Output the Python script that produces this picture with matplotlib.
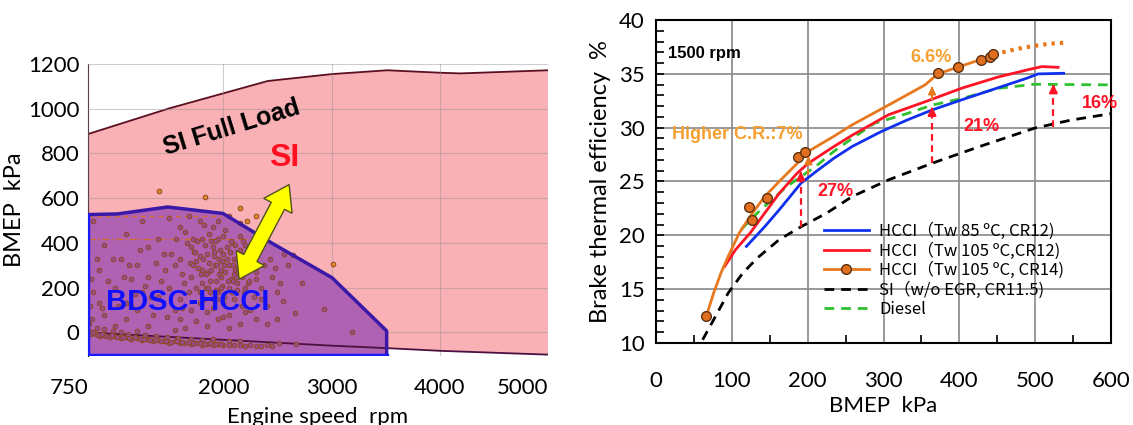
import numpy as np
import matplotlib
matplotlib.use("Agg")
import matplotlib.pyplot as plt
from matplotlib.patches import Polygon
from matplotlib.lines import Line2D
from matplotlib.transforms import IdentityTransform

# ---- left chart: operating map ----
rpm_ticks = [750, 2000, 3000, 4000, 5000]
bmep_ticks = [0, 200, 400, 600, 800, 1000, 1200]

full_load_rpm = [750, 1502, 2410, 3004, 3515, 4004, 4192, 5000]
full_load_bmep = [887, 1002, 1124, 1155, 1172, 1161, 1158, 1172]
motoring_rpm = [750, 1585, 3004, 3515, 4004, 5000]
motoring_bmep = [0, -22, -59, -70, -82, -99]

hcci_rpm = [750, 1024, 1486, 1997, 2443, 3004, 3509, 3509, 750]
hcci_bmep = [527, 530, 561, 532, 401, 245, 7, -101, -101]

# measured points inside the HCCI zone
pts_rpm = [800, 1100, 1050, 1300, 1400, 1500, 900, 780, 850, 950, 1000, 1150, 1200, 1250,
           1350, 1450, 1550, 1600, 1650, 1700, 1700, 1750, 1750, 1800, 1800, 1820, 1850, 1880,
           1900, 1900, 1920, 1950, 1950, 1980, 2000, 2020, 2050, 2050, 2080, 2100, 2100, 2120,
           2150, 2150, 2180, 2200, 2220, 2250, 2280, 2300, 2320, 2350, 2400, 2450, 2500, 2550,
           1600, 1700, 1850, 1950, 2050, 2150, 2300, 1400, 1300, 1200, 1100, 900, 850, 1000,
           1150, 1500, 1550, 1650, 1750, 2250, 2400, 1820, 1880, 1720, 1780, 2000, 2070, 1930,
           1870, 1960, 2130, 2170, 2230, 2030, 1980, 2110, 1790, 1690, 1640, 2200, 2340, 2430,
           2500, 2600, 770, 760, 800, 1250, 1680, 2050, 2640, 2730, 2930, 2660, 3185, 2510, 2670,
           1860, 1910, 1990, 2010, 2060, 2090, 1840, 1770, 1940, 2140, 1730, 1890,
           1720, 1740, 1760, 1780, 1800, 1810, 1830, 1840, 1860, 1870, 1890, 1900, 1910, 1920,
           1930, 1940, 1960, 1970, 1980, 1990, 2000, 2010, 2020, 2030, 2040, 2060, 2070, 2080,
           2090, 2100, 2110, 2120, 2130, 2140, 2160, 2170, 2180, 2190, 2200, 2210, 2230, 2240,
           2260, 2280, 2300, 1600, 1620, 1660, 1680, 1560, 1520, 1460, 1420, 1380, 1330, 1280,
           1230, 1180, 1130, 1080, 1030, 980, 930, 880, 830, 790, 1600, 1780, 1950, 2150, 1480,
           1620, 1780, 1900, 2000, 2200, 2350, 2380, 2480, 2520, 2560, 2050, 1850, 1550, 1300,
           1100]
pts_bmep = [500, 440, 330, 250, 420, 510, 390, 240, 280, 150, 200, 120, 300, 180,
            80, 350, 300, 150, 450, 380, 250, 200, 320, 420, 280, 150, 350, 230,
            470, 380, 300, 180, 420, 250, 350, 460, 300, 200, 400, 150, 330, 250,
            370, 430, 300, 200, 280, 350, 160, 240, 300, 200, 120, 250, 180, 140,
            60, 100, 90, 60, 80, 40, 60, 160, 380, 100, 60, 80, 130, 30,
            240, 200, 100, 20, 50, 100, 40, 480, 180, 420, 340, 130, 240, 230,
            310, 330, 190, 120, 220, 380, 280, 280, 260, 310, 220, 390, 380, 330,
            60, 300, 120, 40, 180, 500, 520, 520, 347, 222, 107, 89, 0, -49, -53,
            270, 340, 210, 300, 360, 230, 200, 290, 150, 270, 360, 410,
            300, 360, 410, 180, 220, 330, 390, 260, 200, 440, 280, 150, 360, 410,
            190, 300, 260, 370, 200, 320, 430, 160, 270, 330, 230, 360, 410, 180,
            300, 260, 390, 330, 220, 290, 350, 250, 410, 180, 320, 270, 380, 230,
            300, 330, 270, 330, 260, 400, 180, 420, 350, 280, 230, 310, 160, 210,
            370, 170, 300, 250, 120, 330, 230, 110, 330, 60, 470, 500, 500, 490, 70,
            110, 130, 110, 70, 90, 150, 300, 290, 220, 350, 20, 30, 10, 30,
            130]

# points along the motoring line
band_rpm = [780, 820, 860, 900, 950, 1000, 1050, 1100, 1150, 1200, 1250, 1300, 1350, 1400,
            1450, 1500, 1550, 1600, 1650, 1700, 1750, 1800, 1850, 1900, 1950, 2000, 2100,
            2200, 2300, 2400, 830, 900, 980, 1050, 1120, 1200, 1280, 1380, 1480, 1580, 1700,
            1800, 1900, 2050, 2150, 760, 800, 840, 880, 920, 970, 1020, 1070, 1130, 1180, 1230,
            1270, 1320, 1370, 1420, 1470, 1520, 1570, 1620, 1680, 1720, 1780, 1830, 1880, 1930,
            1980, 2050, 2150, 2250, 2350, 2450]
band_bmep = [-5, -5, -15, -10, -20, -15, -25, -20, -30, -25, -35, -30, -40, -35,
             -40, -45, -40, -48, -45, -50, -48, -55, -50, -55, -52, -58, -55,
             -60, -62, -58, 20, 15, 5, 0, -5, 5, -10, -15, -20, -25, -30,
             -35, -30, -40, -38, 5, 0, -10, -8, -15, -12, -20, -18, -25, -22, -30,
             -28, -35, -30, -38, -36, -42, -38, -44, -42, -47, -45, -50, -48, -52,
             -50, -54, -58, -57, -60, -62]

high_rpm = [1410, 1832, 2152, 2222, 2298, 3014]
high_bmep = [634, 604, 555, 497, 520, 307]

# double arrow between the two regimes (tail, head)
swap_rpm = [2146, 2608]
swap_bmep = [238, 661]

# ---- right chart: brake thermal efficiency ----
cr14_x = [66.3, 76.0, 85.6, 95.2, 109.6, 124.0, 143.3, 162.5, 186.5, 201.0, 234.6, 258.7,
          306.7, 354.8, 371.6, 402.9, 446.2]
cr14_y = [12.47, 14.64, 16.49, 18.04, 20.2, 21.75, 23.6, 25.0, 26.7, 27.8, 29.2, 30.26,
          32.1, 33.97, 34.99, 35.73, 36.75]
cr14_ext_x = [446, 475, 499, 520, 542]
cr14_ext_y = [36.8, 37.3, 37.6, 37.8, 37.9]
cr14_pts_x = [66, 123, 126, 146, 187, 197, 372, 398, 429, 440, 445]
cr14_pts_y = [12.5, 22.6, 21.4, 23.5, 27.3, 27.7, 35.1, 35.6, 36.3, 36.6, 36.8]

tw105_x = [90.4, 104.8, 124, 143.3, 162.5, 186.5, 201, 234.6, 258.7, 306.7, 354.8, 402.9,
           451, 489.4, 508.7, 530.3]
tw105_y = [17.1, 18.66, 20.2, 22.06, 23.9, 25.8, 26.7, 28.25, 29.3, 31.2, 32.4, 33.66,
           34.7, 35.36, 35.67, 35.6]

tw85_x = [119.2, 143.3, 162.5, 191.3, 210.6, 234.6, 258.7, 297.1, 330.8, 364.4, 402.9,
          451, 489.4, 503.8, 537.5]
tw85_y = [18.97, 20.8, 22.37, 24.85, 25.9, 27.16, 28.25, 29.64, 30.7, 31.65, 32.58,
          33.7, 34.6, 34.99, 35.05]

diesel_x = [112, 128.8, 148, 172, 191.3, 210.6, 234.6, 258.7, 288, 330.8, 364.4, 402.9,
            451, 499, 600]
diesel_y = [20.5, 21.75, 23.0, 24.5, 25.46, 26.4, 27.8, 29.0, 30.4, 31.3, 32.1, 32.7,
            33.65, 34.03, 33.97]

si_x = [61.5, 76, 95.2, 114.4, 133.7, 162.5, 191.3, 225, 258.7, 306.7, 364.4, 427, 499,
        547, 600]
si_y = [10.3, 12.16, 14.64, 16.49, 17.9, 19.6, 20.8, 22.06, 23.6, 25.15, 26.7, 28.25,
        29.95, 30.7, 31.3]

# improvement arrows (x, from, to)
red_arrow_x = [191, 364, 524]
red_arrow_y0 = [20.8, 26.7, 30.1]
red_arrow_y1 = [26.2, 32.2, 34.3]
org_arrow_x = [201, 364]
org_arrow_y0 = [25.6, 32.6]
org_arrow_y1 = [27.6, 34.1]

legend_labels = ["HCCI（Tw 85 ºC, CR12)", "HCCI（Tw 105 ºC,CR12)",
                 "HCCI（Tw 105 ºC, CR14)", "SI（w/o EGR, CR11.5)", "Diesel"]

ORANGE = "#e8781e"
LIGHT_ORANGE = "#f5a030"
RED = "#ff1426"


def double_arrow(ax, xs, ys, width, head_w, head_len, **kw):
    # build a two-headed block arrow in pixel space so it keeps its shape
    p0, p1 = ax.transData.transform(np.column_stack([xs, ys]))
    u = (p1 - p0) / np.hypot(*(p1 - p0))
    n = np.array([-u[1], u[0]])
    a, b = p0 + u * head_len, p1 - u * head_len
    verts = [p0, a + n * head_w / 2, a + n * width / 2, b + n * width / 2, b + n * head_w / 2,
             p1, b - n * head_w / 2, b - n * width / 2, a - n * width / 2, a - n * head_w / 2]
    ax.add_patch(Polygon(verts, closed=True, transform=IdentityTransform(), **kw))


fig = plt.figure(figsize=(11.33, 4.25), dpi=100)

# ===================== left =====================
ax1 = fig.add_axes([0.0777, 0.1624, 0.406, 0.687])
ax1.set_xlim(750, 5000)
ax1.set_ylim(-105, 1200)

# SI region between motoring line and full load
top = list(zip(full_load_rpm, full_load_bmep))
bot = list(zip(motoring_rpm, motoring_bmep))[::-1]
ax1.add_patch(Polygon(top + bot, closed=True, facecolor="#f9b1b6", edgecolor="none", zorder=1))
ax1.plot(full_load_rpm, full_load_bmep, color="#5a1020", lw=1.3, zorder=2)
ax1.plot(motoring_rpm, motoring_bmep, color="#4a1040", lw=1.3, zorder=4)

ax1.add_patch(Polygon(list(zip(hcci_rpm, hcci_bmep)), closed=True, facecolor="#b062b2",
                      edgecolor="none", zorder=3))
ax1.plot(hcci_rpm[:8], hcci_bmep[:8], color="#3a18a8", lw=2.5, zorder=6)
ax1.plot([hcci_rpm[7], hcci_rpm[8], hcci_rpm[0]], [hcci_bmep[7], hcci_bmep[8], hcci_bmep[0]],
         color="#1a1aff", lw=2.5, zorder=6)

ax1.plot([750, 1981], [520, 520], color="#d0702a", lw=0.9, ls=(0, (4, 3)), zorder=4)
ax1.plot([750, 2245], [419, 419], color="#d0702a", lw=0.9, ls=(0, (6, 2, 1, 2)), zorder=4)

ax1.scatter(pts_rpm + band_rpm, pts_bmep + band_bmep, s=11, facecolor="#9c4a90",
            edgecolor="#8a4a20", linewidth=0.7, zorder=5)
ax1.scatter(high_rpm, high_bmep, s=11, facecolor="#e8862a", edgecolor="#8a4a20",
            linewidth=0.7, zorder=5)

double_arrow(ax1, swap_rpm, swap_bmep, width=15, head_w=32, head_len=24,
             facecolor="#ffff00", edgecolor="#505020", lw=1, zorder=7)

ax1.text(2080, 915, "SI Full Load", rotation=17, ha="center", va="center", fontsize=18,
         fontweight="bold", family="Liberation Sans", zorder=8)
ax1.text(2558, 780, "SI", ha="center", va="center", fontsize=23, fontweight="bold",
         color="#ff1020", family="Liberation Sans", zorder=8)
ax1.text(1667, 138, "BDSC-HCCI", ha="center", va="center", fontsize=21, fontweight="bold",
         color="#1010ff", family="Liberation Sans", zorder=8)

ax1.set_xticks(rpm_ticks)
ax1.set_yticks(bmep_ticks)
ax1.grid(True, color="#909090", lw=0.8, alpha=0.45)
ax1.set_axisbelow(False)
for s in ["top", "right", "bottom"]:
    ax1.spines[s].set_visible(False)
ax1.spines["left"].set_color("#300010")
ax1.tick_params(length=0, labelsize=16, pad=6)
ax1.tick_params(axis="x", pad=16)
for lab in ax1.get_xticklabels() + ax1.get_yticklabels():
    lab.set_family("Lato")
xl = ax1.get_xticklabels()
xl[0].set_horizontalalignment("right")
xl[-1].set_horizontalalignment("right")
ax1.set_xlabel("Engine speed  rpm", fontsize=16, family="Lato", labelpad=6)
ax1.set_ylabel("BMEP  kPa", fontsize=17, family="Lato", labelpad=2)

# ===================== right =====================
ax2 = fig.add_axes([0.579, 0.193, 0.4016, 0.76])
ax2.plot(si_x, si_y, color="black", lw=2, ls=(0, (3.5, 2.5)))
ax2.plot(diesel_x, diesel_y, color="#30c030", lw=2, ls=(0, (3.5, 2.5)))
ax2.plot(tw85_x, tw85_y, color="#1030f0", lw=2)
ax2.plot(tw105_x, tw105_y, color=RED, lw=2)
ax2.plot(cr14_x, cr14_y, color=ORANGE, lw=2)
ax2.plot(cr14_ext_x, cr14_ext_y, color=ORANGE, lw=3, ls=(0, (0.8, 1.2)))
ax2.plot(cr14_pts_x, cr14_pts_y, ls="none", marker="o", ms=7, mfc="#e07020", mec="#5a3010",
         mew=1)

for x, y0, y1 in zip(red_arrow_x, red_arrow_y0, red_arrow_y1):
    ax2.plot([x, x], [y0, y1 - 0.6], color=RED, lw=1.6, ls=(0, (3, 2)), zorder=5)
    ax2.annotate("", xy=(x, y1), xytext=(x, y1 - 0.8),
                 arrowprops=dict(arrowstyle="-|>", color=RED, lw=1.6, mutation_scale=12),
                 zorder=5)
for x, y0, y1 in zip(org_arrow_x, org_arrow_y0, org_arrow_y1):
    ax2.plot([x, x], [y0, y1 - 0.5], color=ORANGE, lw=1.4, ls=(0, (3, 2)), zorder=5)
    ax2.annotate("", xy=(x, y1), xytext=(x, y1 - 0.7),
                 arrowprops=dict(arrowstyle="-|>", color=ORANGE, lw=1.4, mutation_scale=11),
                 zorder=5)

bold = dict(fontweight="bold", family="Liberation Sans")
ax2.text(15.9, 36.9, "1500 rpm", fontsize=12, va="center", ha="left", **bold)
ax2.text(363, 36.5, "6.6%", fontsize=13, va="center", ha="center", color=LIGHT_ORANGE, **bold)
ax2.text(20.7, 29.33, "Higher C.R.:7%", fontsize=13, va="center", ha="left",
         color=LIGHT_ORANGE, **bold)
ax2.text(237, 24.07, "27%", fontsize=13, va="center", ha="center", color=RED, **bold)
ax2.text(429, 30.1, "21%", fontsize=13, va="center", ha="center", color=RED, **bold)
ax2.text(585.6, 32.27, "16%", fontsize=13, va="center", ha="center", color=RED,
         clip_on=False, **bold)

handles = [
    Line2D([], [], color="#1030f0", lw=2),
    Line2D([], [], color=RED, lw=2),
    Line2D([], [], color=ORANGE, lw=2, marker="o", ms=7, mfc="#e07020", mec="#5a3010"),
    Line2D([], [], color="black", lw=2, ls=(0, (3.5, 2.5))),
    Line2D([], [], color="#30c030", lw=2, ls=(0, (3.5, 2.5))),
]
ax2.legend(handles, legend_labels, loc="upper left", bbox_to_anchor=(0.369, 0.372),
           frameon=False, borderpad=0, borderaxespad=0, handlelength=2.7,
           handletextpad=0.6, labelspacing=0.12,
           prop=dict(family=["Noto Sans CJK KR", "DejaVu Sans"], size=12))

ax2.set_xlim(0, 600)
ax2.set_ylim(10, 40)
ax2.set_xticks(range(0, 601, 100))
ax2.set_xticks(range(50, 600, 100), minor=True)
ax2.set_yticks(range(10, 41, 5))
ax2.set_yticks(range(11, 40), minor=True)
ax2.grid(True, which="major", color="#888888", lw=1.2)
ax2.set_axisbelow(True)
for s in ax2.spines.values():
    s.set_linewidth(1.5)
ax2.tick_params(which="both", direction="in", length=6, width=1.2, labelsize=16)
ax2.tick_params(axis="x", which="major", length=0, pad=20)
ax2.tick_params(axis="y", which="major", pad=8)
for lab in ax2.get_xticklabels() + ax2.get_yticklabels():
    lab.set_family("Lato")
ax2.set_xlabel("BMEP  kPa", fontsize=16, family="Lato", labelpad=4)
ax2.set_ylabel("Brake thermal efficiency  %", fontsize=17, family="Lato", labelpad=6)

fig.savefig("out.png", dpi=100)
